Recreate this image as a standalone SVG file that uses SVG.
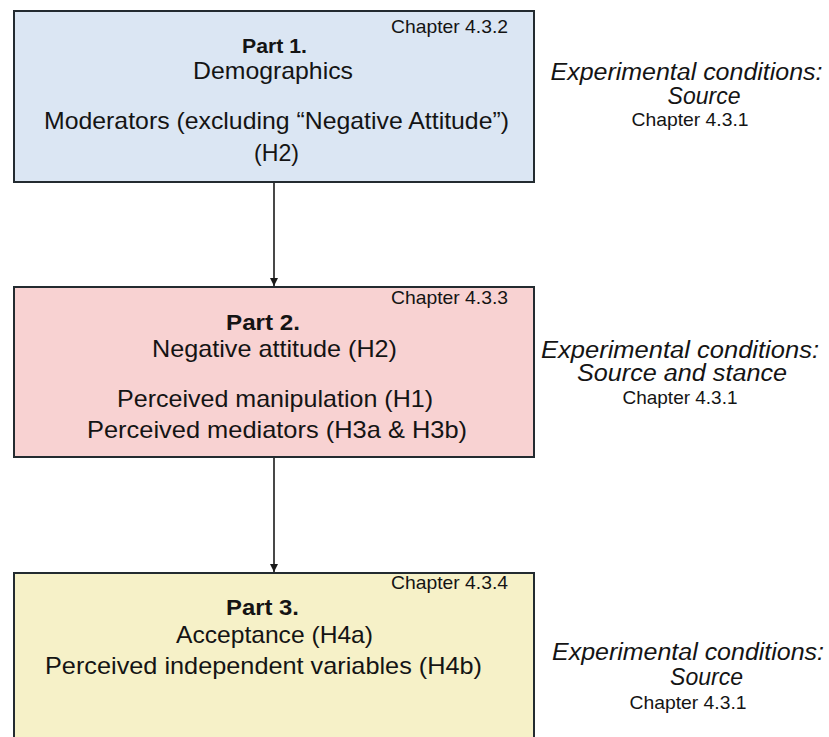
<svg xmlns="http://www.w3.org/2000/svg" width="829" height="737" viewBox="0 0 829 737">
<style>
.box{stroke:#232b30;stroke-width:2}
text{font-family:"Liberation Sans",Arial,sans-serif;fill:#141414;text-anchor:middle}
.ch{font-size:18.5px}
.pt{font-weight:bold}
.b{font-size:24px}
.ex{font-size:23px;font-style:italic}
.conn{stroke:#1a1a1a;stroke-width:1.6;fill:none}
</style>
<defs>
<marker id="arr" viewBox="0 0 10 10" refX="10" refY="5" markerWidth="5" markerHeight="5" orient="auto" markerUnits="strokeWidth">
<path d="M0,0 L10,5 L0,10 z" fill="#1a1a1a"/>
</marker>
</defs>
<rect width="829" height="737" fill="#ffffff"/>
<g id="connectors">
<line class="conn" x1="274" y1="183" x2="274" y2="286" marker-end="url(#arr)"/>
<line class="conn" x1="274" y1="458" x2="274" y2="572" marker-end="url(#arr)"/>
</g>
<g id="part1">
<rect class="box" x="14" y="11" width="520" height="171" fill="#dbe6f3"/>
<text class="ch" x="449.5" y="33" textLength="117" lengthAdjust="spacingAndGlyphs">Chapter 4.3.2</text>
<text class="pt" x="274.5" y="53" font-size="20" textLength="65" lengthAdjust="spacingAndGlyphs">Part 1.</text>
<text class="b" x="273" y="78.5" textLength="160" lengthAdjust="spacingAndGlyphs">Demographics</text>
<text class="b" x="276.5" y="129" textLength="465" lengthAdjust="spacingAndGlyphs">Moderators (excluding “Negative Attitude”)</text>
<text class="b" x="276.5" y="161" textLength="45" lengthAdjust="spacingAndGlyphs">(H2)</text>
</g>
<g id="cond1">
<text class="ex" x="686.5" y="80" textLength="272" lengthAdjust="spacingAndGlyphs">Experimental conditions:</text>
<text class="ex" x="704" y="103.5" font-size="19.5">Source</text>
<text class="ch" x="690" y="125.5" textLength="117" lengthAdjust="spacingAndGlyphs">Chapter 4.3.1</text>
</g>
<g id="part2">
<rect class="box" x="14" y="287" width="520" height="170" fill="#f8d2d2"/>
<text class="ch" x="449.5" y="304" textLength="117" lengthAdjust="spacingAndGlyphs">Chapter 4.3.3</text>
<text class="pt" x="263" y="330" font-size="22" textLength="74" lengthAdjust="spacingAndGlyphs">Part 2.</text>
<text class="b" x="274.5" y="357" textLength="245" lengthAdjust="spacingAndGlyphs">Negative attitude (H2)</text>
<text class="b" x="275" y="406.5" textLength="316" lengthAdjust="spacingAndGlyphs">Perceived manipulation (H1)</text>
<text class="b" x="277" y="437.5" textLength="380" lengthAdjust="spacingAndGlyphs">Perceived mediators (H3a &amp; H3b)</text>
</g>
<g id="cond2">
<text class="ex" x="680" y="357.5" textLength="278" lengthAdjust="spacingAndGlyphs">Experimental conditions:</text>
<text class="ex" x="682" y="381" textLength="210" lengthAdjust="spacingAndGlyphs">Source and stance</text>
<text class="ch" x="680" y="404" textLength="115" lengthAdjust="spacingAndGlyphs">Chapter 4.3.1</text>
</g>
<g id="part3">
<rect class="box" x="14" y="573" width="520" height="180" fill="#f6f1c8"/>
<text class="ch" x="449.5" y="589" textLength="117" lengthAdjust="spacingAndGlyphs">Chapter 4.3.4</text>
<text class="pt" x="262.5" y="614.5" font-size="22" textLength="73" lengthAdjust="spacingAndGlyphs">Part 3.</text>
<text class="b" x="274.5" y="642.5" textLength="197" lengthAdjust="spacingAndGlyphs">Acceptance (H4a)</text>
<text class="b" x="263.5" y="673.5" textLength="437" lengthAdjust="spacingAndGlyphs">Perceived independent variables (H4b)</text>
</g>
<g id="cond3">
<text class="ex" x="688" y="660" textLength="272" lengthAdjust="spacingAndGlyphs">Experimental conditions:</text>
<text class="ex" x="706.5" y="684.5" font-size="19.5">Source</text>
<text class="ch" x="688" y="708.5" textLength="117" lengthAdjust="spacingAndGlyphs">Chapter 4.3.1</text>
</g>
</svg>
